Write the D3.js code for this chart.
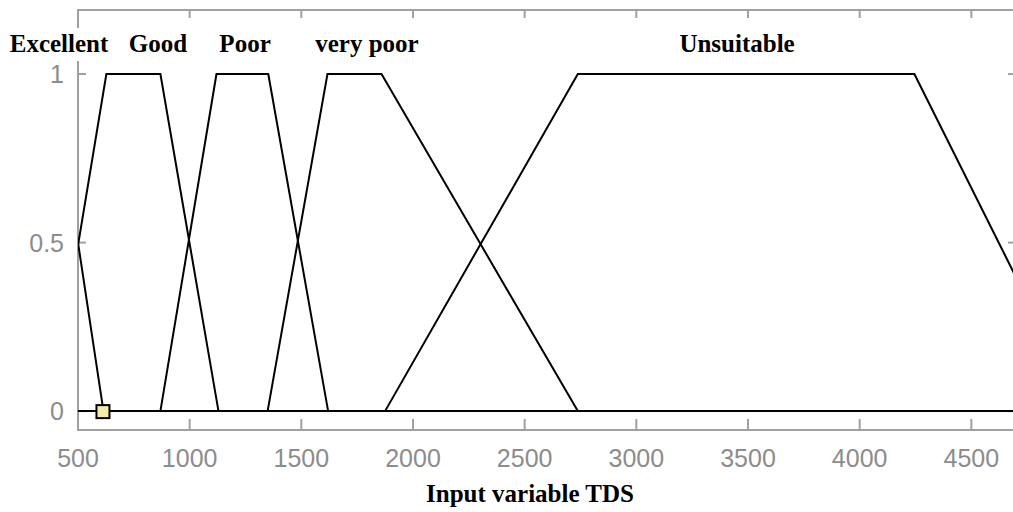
<!DOCTYPE html>
<html>
<head>
<meta charset="utf-8">
<script src="https://cdn.jsdelivr.net/npm/d3@7"></script>
<style>
  html, body { margin: 0; padding: 0; background: #fff; }
  svg { display: block; }
</style>
</head>
<body>
<svg id="chart" width="1013" height="512"></svg>
<script>
// Membership functions of the input variable TDS (trapezoids: a, b, c, d)
const mfNames = ["Excellent", "Good", "Poor", "very poor", "Unsuitable"];
const mfParams = [
  [160, 270, 386, 614],
  [377, 627, 869, 1129],
  [869, 1120, 1352, 1620],
  [1349, 1617, 1859, 2738],
  [1875, 2738, 4245, 5000],
];
// label centres along x (data units)
const labelX = [415, 858, 1248, 1794, 3451];
const xTicks = [500, 1000, 1500, 2000, 2500, 3000, 3500, 4000, 4500];
const yTicks = [0, 0.5, 1];
const xDomain = [500, 4700];
const yDomain = [-0.056, 1.19];
const selected = { x: 614, y: 0 };
const xTitle = "Input variable TDS";

const svg = d3.select("#chart");
const box = { left: 78, right: 1016, top: 10, bottom: 430 };

const x = d3.scaleLinear().domain(xDomain).range([box.left, box.right]);
const y = d3.scaleLinear().domain(yDomain).range([box.bottom, box.top]);

const gray = "#a0a0a0";
const tickGray = "#8c8c8c";

// clip so curves stay in the axes
svg.append("clipPath").attr("id", "clip")
  .append("rect")
  .attr("x", box.left).attr("y", box.top)
  .attr("width", box.right - box.left).attr("height", box.bottom - box.top);

// axes box
svg.append("rect")
  .attr("x", box.left).attr("y", box.top)
  .attr("width", box.right - box.left).attr("height", box.bottom - box.top)
  .attr("fill", "none").attr("stroke", gray).attr("stroke-width", 2);

// x ticks bottom and top (inward)
const xt = svg.append("g");
xTicks.forEach((t) => {
  xt.append("line").attr("x1", x(t)).attr("x2", x(t))
    .attr("y1", box.bottom).attr("y2", box.bottom - 11)
    .attr("stroke", gray).attr("stroke-width", 2);
  xt.append("line").attr("x1", x(t)).attr("x2", x(t))
    .attr("y1", box.top).attr("y2", box.top + 8)
    .attr("stroke", gray).attr("stroke-width", 2);
  xt.append("text").attr("x", x(t)).attr("y", 467)
    .attr("text-anchor", "middle")
    .attr("font-family", "'Liberation Sans', Arial, sans-serif")
    .attr("font-size", 25).attr("fill", tickGray)
    .text(t);
});

// y ticks left and right
const yt = svg.append("g");
yTicks.forEach((t) => {
  yt.append("line").attr("x1", box.left).attr("x2", box.left + 8)
    .attr("y1", y(t)).attr("y2", y(t))
    .attr("stroke", gray).attr("stroke-width", 2);
  yt.append("line").attr("x1", box.right).attr("x2", box.right - 8)
    .attr("y1", y(t)).attr("y2", y(t))
    .attr("stroke", gray).attr("stroke-width", 2);
  yt.append("text").attr("x", 64).attr("y", y(t) + 9)
    .attr("text-anchor", "end")
    .attr("font-family", "'Liberation Sans', Arial, sans-serif")
    .attr("font-size", 25).attr("fill", tickGray)
    .text(t);
});

// membership curves, evaluated on the full domain
function trap(p) {
  const [a, b, c, d] = p;
  return [[xDomain[0] - 200, 0], [a, 0], [b, 1], [c, 1], [d, 0], [xDomain[1] + 400, 0]];
}

const line = d3.line().x((d) => x(d[0])).y((d) => y(Math.max(0, Math.min(1, d[1]))));

svg.append("g").attr("clip-path", "url(#clip)")
  .selectAll("path")
  .data(mfParams)
  .join("path")
  .attr("d", (p) => line(trap(p)))
  .attr("fill", "none")
  .attr("stroke", "#000")
  .attr("stroke-width", 2);

// selected point marker
svg.append("rect")
  .attr("x", x(selected.x) - 7).attr("y", y(selected.y) - 6)
  .attr("width", 13).attr("height", 13)
  .attr("fill", "#f2eda8").attr("stroke", "#000").attr("stroke-width", 2);

// MF name labels with white background
const lab = svg.append("g");
mfNames.forEach((name, i) => {
  const t = lab.append("text")
    .attr("x", x(labelX[i])).attr("y", 52)
    .attr("text-anchor", "middle")
    .attr("font-family", "'Liberation Serif', 'Times New Roman', serif")
    .attr("font-weight", "bold").attr("font-size", 25)
    .attr("fill", "#000")
    .text(name);
  const bb = t.node().getBBox();
  lab.insert("rect", "text")
    .attr("x", bb.x - 2).attr("y", bb.y - 2)
    .attr("width", bb.width + 4).attr("height", bb.height + 6)
    .attr("fill", "#fff");
});

// x title
svg.append("text")
  .attr("x", 530).attr("y", 502)
  .attr("text-anchor", "middle")
  .attr("font-family", "'Liberation Serif', 'Times New Roman', serif")
  .attr("font-weight", "bold").attr("font-size", 25)
  .text(xTitle);
</script>
</body>
</html>
